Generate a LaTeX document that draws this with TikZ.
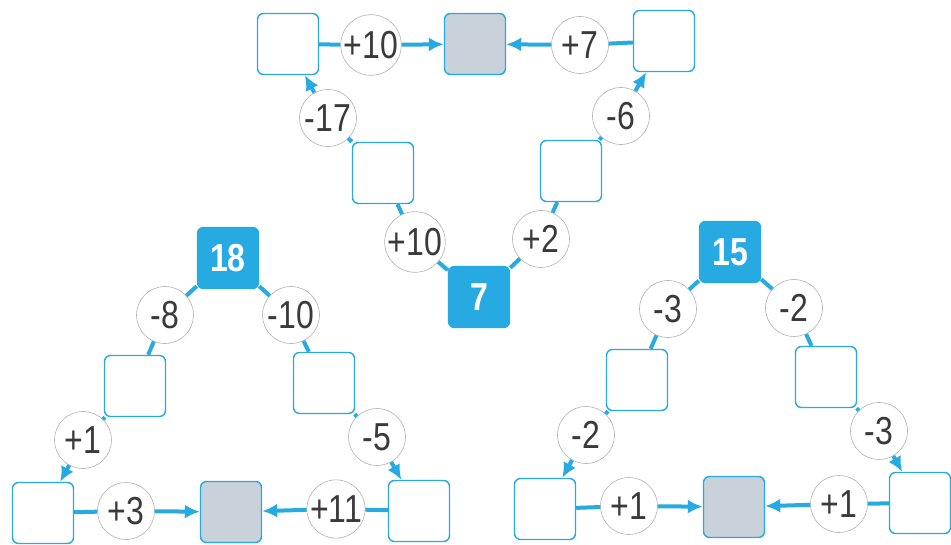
\documentclass[tikz,border=0pt]{standalone}
\usepackage{fontspec}
\newfontfamily\numfont[FakeStretch=0.82]{Liberation Sans}
\usetikzlibrary{arrows.meta}
\definecolor{boxblue}{HTML}{27AAE1}
\definecolor{goalgray}{HTML}{C9D1DA}
\definecolor{numgray}{HTML}{3A3A3C}
\tikzset{
  cell/.style={draw=boxblue,line width=1.4pt,rounded corners=6pt,minimum size=61pt,inner sep=0pt,fill=white},
  given/.style={cell,fill=boxblue,text=white,font=\fontsize{39}{41}\selectfont\numfont\bfseries},
  goal/.style={cell,fill=goalgray},
  op/.style={circle,draw=gray!60,line width=0.6pt,fill=white,minimum size=57pt,inner sep=0pt,text=numgray,font=\fontsize{39}{41}\selectfont\numfont},
  link/.style={draw=boxblue,line width=4pt},
  arr/.style={link,-{Latex[length=15pt,width=14pt]}}
}
\begin{document}
\begin{tikzpicture}[x=1pt,y=1pt,yscale=-1]
                \useasboundingbox (0,0) rectangle (951,545);
                % top
                \node[cell]  (1) at (288, 44) {};
                \node[op]    (2) at (371, 45) {+10};
                \node[goal]  (3) at (475, 44) {};
                \node[op]    (4) at (580, 45) {+7};
                \node[cell]  (5) at (664, 41) {};
                \node[op]    (6) at (328, 118) {-17};
                \node[op]    (7) at (621, 116) {-6};
                \node[cell]  (8) at (383, 173) {};
                \node[cell]  (9) at (571, 171) {};
                \node[op]    (10) at (415, 242) {+10};
                \node[op]    (11) at (541, 239) {+2};
                \node[given] (12) at (479, 297) {7};
                % left
                \node[given] (13) at (228, 258) {18};
                \node[op]    (14) at (165, 315) {-8};
                \node[op]    (15) at (291, 315) {-10};
                \node[cell]  (16) at (135, 386) {};
                \node[cell]  (17) at (324, 383) {};
                \node[op]    (18) at (83, 440) {+1};
                \node[op]    (19) at (377, 437) {-5};
                \node[cell]  (20) at (43, 513) {};
                \node[op]    (21) at (126, 511) {+3};
                \node[goal]  (22) at (231, 512) {};
                \node[op]    (23) at (336, 509) {+11};
                \node[cell]  (24) at (419, 511) {};
                % right
                \node[given] (25) at (730, 252) {15};
                \node[op]    (26) at (668, 309) {-3};
                \node[op]    (27) at (794, 308) {-2};
                \node[cell]  (28) at (637, 380) {};
                \node[cell]  (29) at (826, 377) {};
                \node[op]    (30) at (586, 435) {-2};
                \node[op]    (31) at (879, 431) {-3};
                \node[cell]  (32) at (545, 509) {};
                \node[op]    (33) at (629, 506) {+1};
                \node[goal]  (34) at (734, 507) {};
                \node[op]    (35) at (839, 504) {+1};
                \node[cell]  (36) at (920, 503) {};
                \draw[link] (12) to (10);
                \draw[link] (10) to (8);
                \draw[link] (8) to (6);
                \draw[arr]  (6) to (1);
                \draw[link] (1) to (2);
                \draw[arr]  (2) to (3);
                \draw[link] (12) to (11);
                \draw[link] (11) to (9);
                \draw[link] (9) to (7);
                \draw[arr]  (7) to (5);
                \draw[link] (5) to (4);
                \draw[arr]  (4) to (3);
                \draw[link] (13) to (14);
                \draw[link] (14) to (16);
                \draw[link] (16) to (18);
                \draw[arr]  (18) to (20);
                \draw[link] (20) to (21);
                \draw[arr]  (21) to (22);
                \draw[link] (13) to (15);
                \draw[link] (15) to (17);
                \draw[link] (17) to (19);
                \draw[arr]  (19) to (24);
                \draw[link] (24) to (23);
                \draw[arr]  (23) to (22);
                \draw[link] (25) to (26);
                \draw[link] (26) to (28);
                \draw[link] (28) to (30);
                \draw[arr]  (30) to (32);
                \draw[link] (32) to (33);
                \draw[arr]  (33) to (34);
                \draw[link] (25) to (27);
                \draw[link] (27) to (29);
                \draw[link] (29) to (31);
                \draw[arr]  (31) to (36);
                \draw[link] (36) to (35);
                \draw[arr]  (35) to (34);
\end{tikzpicture}
\end{document}
